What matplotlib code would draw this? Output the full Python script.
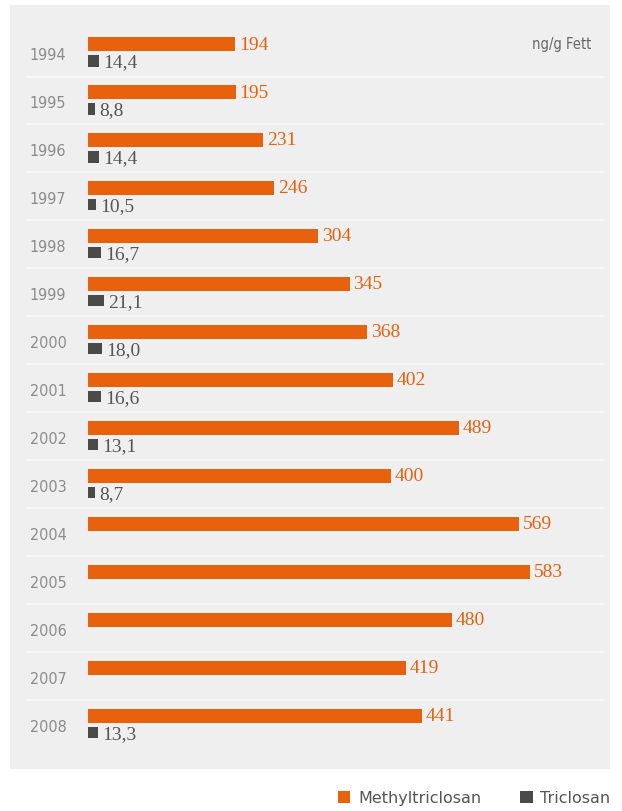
import numpy as np
import matplotlib
matplotlib.use("Agg")
import matplotlib.pyplot as plt
from matplotlib.patches import Rectangle
from matplotlib.transforms import blended_transform_factory

# Data (ng/g Fett)
years = ["1994", "1995", "1996", "1997", "1998", "1999", "2000", "2001",
         "2002", "2003", "2004", "2005", "2006", "2007", "2008"]
methyltriclosan = [194, 195, 231, 246, 304, 345, 368, 402, 489, 400,
                   569, 583, 480, 419, 441]
triclosan = [14.4, 8.8, 14.4, 10.5, 16.7, 21.1, 18.0, 16.6, 13.1, 8.7,
             np.nan, np.nan, np.nan, np.nan, 13.3]
unit_label = "ng/g Fett"
legend_labels = ["Methyltriclosan", "Triclosan"]

ORANGE = "#e8620e"
DARK = "#4a4a4a"
PANEL = "#efefef"
YEAR_COL = "#8c8c8c"

W, H = 622, 812
fig = plt.figure(figsize=(W / 100, H / 100), dpi=100)
fig.patch.set_facecolor("white")

# light grey panel behind the chart
fig.patches.append(Rectangle((10 / W, 1 - 770 / H), 600 / W, 764 / H,
                             transform=fig.transFigure, facecolor=PANEL,
                             edgecolor="none", zorder=-10))

ax = fig.add_axes([88 / W, 1 - 770 / H, (612 - 88) / W, 764 / H])
ax.set_zorder(1)
ax.set_facecolor("none")
for s in ax.spines.values():
    s.set_visible(False)
ax.set_xticks([])
ax.set_yticks([])

n = len(years)
pos = np.arange(n)
off = 0.177
b1 = ax.barh(pos - off, methyltriclosan, height=0.29, color=ORANGE, zorder=3)
b2 = ax.barh(pos + off, triclosan, height=0.23, color=DARK, zorder=3)

ax.set_xlim(0, (612 - 88) / 0.758)
ax.set_ylim(n - 1 + 0.93, -0.99)

# faint white row separators
for y in np.arange(n - 1) + 0.5:
    ax.plot([-80, 680], [y, y], color="#f9f9f9", lw=1.2, zorder=1,
            clip_on=False)

val_font = dict(family="Liberation Serif", fontsize=14)
for i, (m, t) in enumerate(zip(methyltriclosan, triclosan)):
    ax.text(m + 5, i - off, f"{m}", color=ORANGE, va="center", ha="left",
            zorder=4, **val_font)
    if not np.isnan(t):
        ax.text(t + 6, i + off + 0.02, f"{t:.1f}".replace(".", ","),
                color="#555555", va="center", ha="left", zorder=4, **val_font)

ytrans = blended_transform_factory(fig.transFigure, ax.transData)
for i, yr in enumerate(years):
    ax.text(48 / W, i + 0.05, yr, transform=ytrans, ha="center", va="center",
            color=YEAR_COL, fontsize=11.5, family="DejaVu Sans",
            fontstretch="condensed")

fig.text(562 / W, 1 - 45 / H, unit_label, ha="center", va="center",
         color="#666666", fontsize=10.5, family="DejaVu Sans",
         fontstretch="condensed")

leg = fig.legend([b1, b2], legend_labels, loc="center right",
                 bbox_to_anchor=(625 / W, 1 - 799 / H), ncol=2,
                 frameon=False, handlelength=0.8, handleheight=0.8,
                 handletextpad=0.5, columnspacing=2.4,
                 prop=dict(family="DejaVu Sans", size=11.5))
for t in leg.get_texts():
    t.set_color("#555555")

fig.savefig("out.png", dpi=100, facecolor="white")
